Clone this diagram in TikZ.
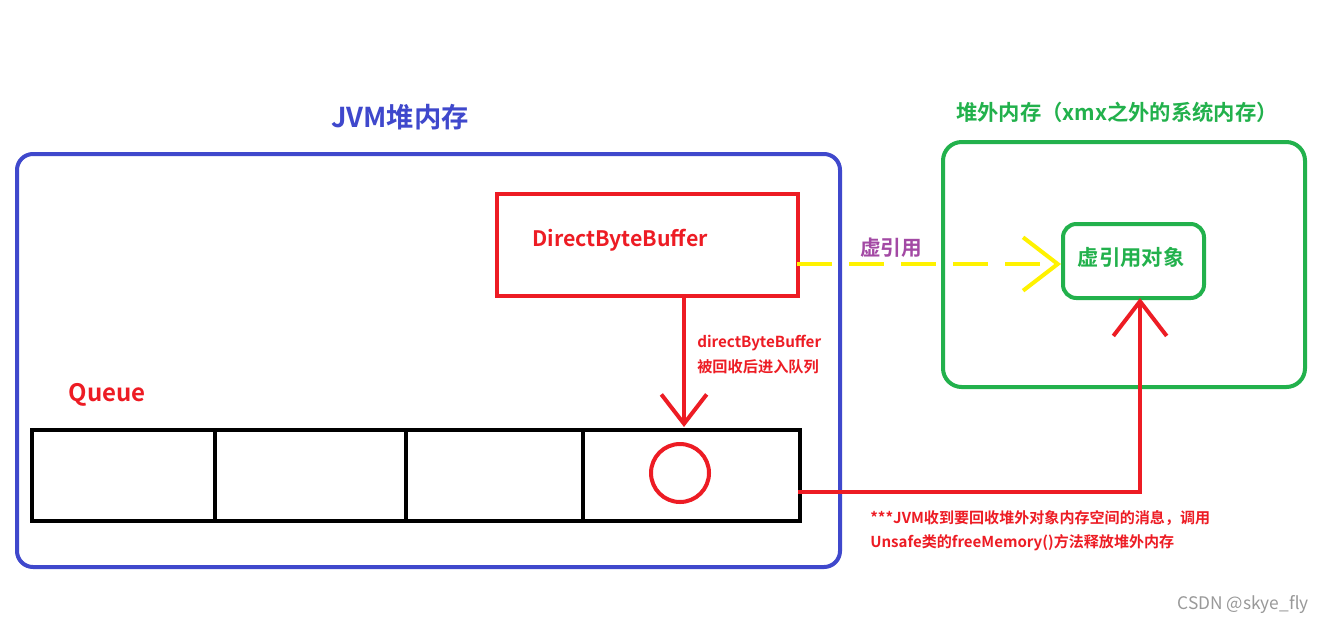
\documentclass[tikz,border=0pt]{standalone}
\usepackage{fontspec}
\setmainfont{Noto Sans CJK SC}[BoldFont={Noto Sans CJK SC Bold}]
\usetikzlibrary{arrows.meta}
\definecolor{jblue}{HTML}{3F48CC}
\definecolor{jgreen}{HTML}{22B14C}
\definecolor{jred}{HTML}{ED1C24}
\definecolor{jyel}{HTML}{FFF200}
\definecolor{jpur}{HTML}{A349A4}
\begin{document}
\begin{tikzpicture}[x=0.75pt,y=-0.75pt,
  lbl/.style={font=\bfseries, inner sep=0pt},
  openarrow/.style={-{Straight Barb[length=22pt,width=34pt,line width=3pt]}},
  bigarrow/.style={-{Straight Barb[length=26pt,width=40pt,line width=3pt]}}]
\useasboundingbox[fill=white] (0,0) rectangle (1330,626);
% blue heap
\node[draw=jblue,line width=3pt,rounded corners=12pt,minimum width=823*0.75pt,minimum height=413*0.75pt,anchor=north west] (heap) at (15,152) {};
\node[lbl,text=jblue,font=\bfseries\fontsize{20.5}{22}\selectfont] (heapt) at (400,117) {JVM堆内存};
% green off-heap
\node[draw=jgreen,line width=3pt,rounded corners=14pt,minimum width=362*0.75pt,minimum height=245*0.75pt,anchor=north west] (off) at (941,140) {};
\node[lbl,text=jgreen,font=\bfseries\fontsize{16}{18}\selectfont] (offt) at (1117,112) {堆外内存（xmx之外的系统内存）};
% DirectByteBuffer
\node[draw=jred,line width=3pt,minimum width=301*0.75pt,minimum height=102*0.75pt,anchor=north west] (dbb) at (495,192) {};
\node[lbl,text=jred,font=\bfseries\fontsize{16}{18}\selectfont] (dbbt) at (620,240) {DirectByteBuffer};
% phantom object
\node[draw=jgreen,line width=3pt,rounded corners=10pt,minimum width=141*0.75pt,minimum height=74*0.75pt,anchor=north west] (ph) at (1061,222) {};
\node[lbl,text=jgreen,font=\bfseries\fontsize{16}{18}\selectfont] (pht) at (1131,257) {虚引用对象};
% yellow dashed
\coordinate (ys) at (797,264);
\coordinate (ye) at (1061,264);
\draw[jyel,line width=3pt,dash pattern=on 26pt off 13pt,bigarrow] (ys) -- (ye);
\node[lbl,text=jpur,font=\bfseries\fontsize{15.5}{17}\selectfont] (pl) at (891,248) {虚引用};
% queue
\node[lbl,text=jred,font=\bfseries\fontsize{18}{20}\selectfont] (ql) at (107,395) {Queue};
\node[draw=black,line width=3pt,minimum width=768*0.75pt,minimum height=91*0.75pt,anchor=north west] (q) at (30,428) {};
\foreach \x in {215,406,583}{\draw[black,line width=3pt] (\x,428) -- (\x,519);}
\node[draw=jred,line width=3pt,circle,minimum size=58*0.75pt] (c) at (680,473) {};
% red down arrow
\coordinate (da) at (684,294);
\coordinate (db) at (684,427);
\draw[jred,line width=3pt,openarrow] (da) -- (db);
\node[lbl,text=jred,font=\bfseries\fontsize{11.4}{13}\selectfont,anchor=west] (d1) at (697,343) {directByteBuffer};
\node[lbl,text=jred,font=\bfseries\fontsize{11.4}{13}\selectfont,anchor=west] (d2) at (697,367) {被回收后进入队列};
% red free path
\coordinate (r1) at (798,492);
\coordinate (r2) at (1140,492);
\coordinate (r3) at (1140,298);
\draw[jred,line width=3pt,bigarrow] (r1) -- (r2) -- (r3);
\node[lbl,text=jred,font=\bfseries\fontsize{11.3}{13}\selectfont,anchor=west] (f1) at (870,518) {***JVM收到要回收堆外对象内存空间的消息，调用};
\node[lbl,text=jred,font=\bfseries\fontsize{11.3}{13}\selectfont,anchor=west] (f2) at (870,543) {Unsafe类的freeMemory()方法释放堆外内存};
\node[inner sep=0pt,text=gray!80,font=\fontsize{13}{15}\selectfont] (wm) at (1243,605) {CSDN @skye\_fly};
\end{tikzpicture}
\end{document}
